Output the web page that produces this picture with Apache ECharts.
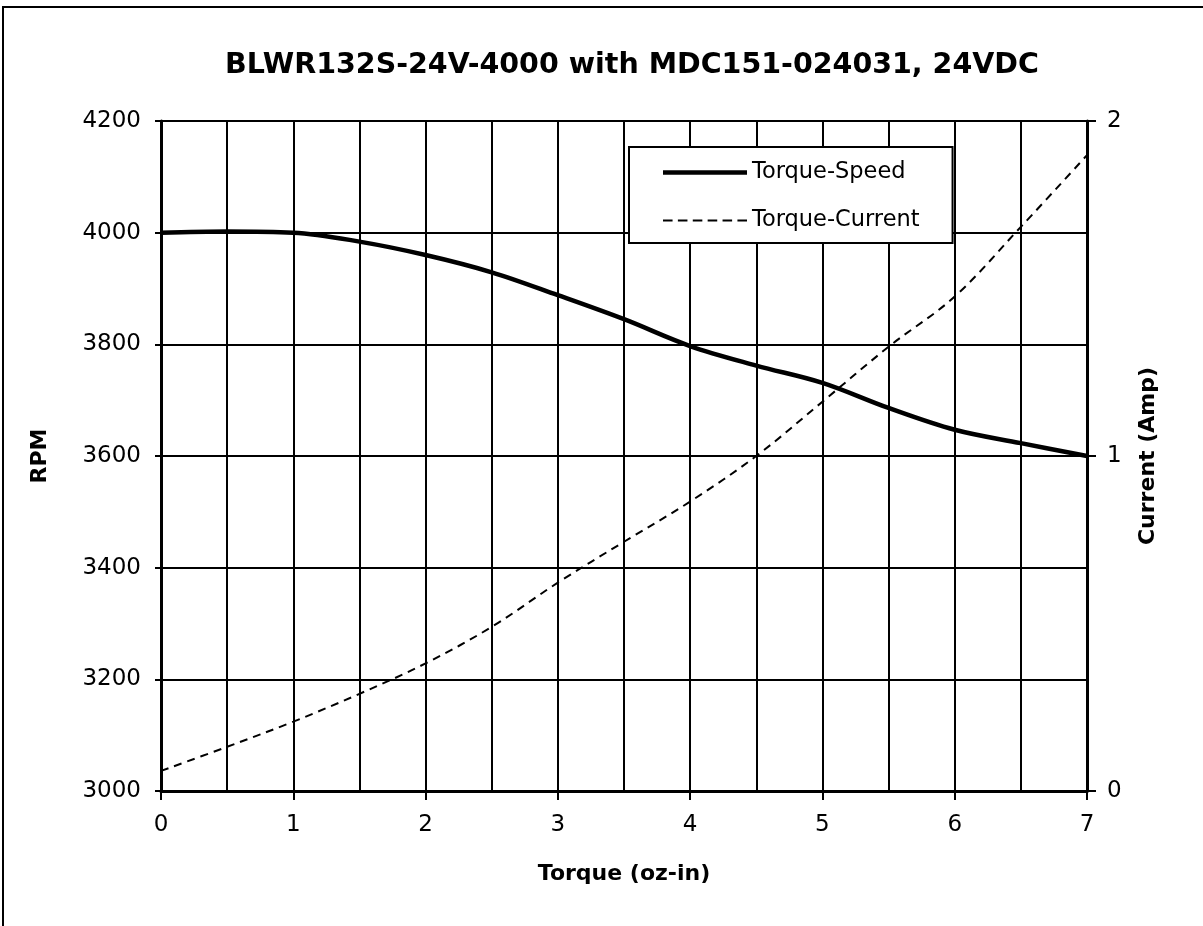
<!DOCTYPE html>
<html>
<head>
<meta charset="utf-8">
<script src="https://cdn.jsdelivr.net/npm/echarts@6/dist/echarts.min.js"></script>
<style>
html,body{margin:0;padding:0;background:#fff;}
#chart{width:1203px;height:926px;}
</style>
</head>
<body>
<div id="chart"></div>
<script>
const torque = [0, 0.5, 1, 1.5, 2, 2.5, 3, 3.5, 4, 4.5, 5, 5.5, 6, 6.5, 7];
const speedRPM = [4000, 4002, 4000, 3984, 3960, 3929, 3888, 3845, 3797, 3762, 3731, 3686, 3647, 3623, 3600];
const currentAmp = [0.06, 0.132, 0.207, 0.29, 0.381, 0.49, 0.622, 0.744, 0.864, 1.0, 1.162, 1.326, 1.476, 1.684, 1.898];
const titleText = 'BLWR132S-24V-4000 with MDC151-024031, 24VDC';
const seriesNames = ['Torque-Speed', 'Torque-Current'];
const axisNames = {x: 'Torque (oz-in)', left: 'RPM', right: 'Current (Amp)'};

const FONT = 'DejaVu Sans';
const chart = echarts.init(document.getElementById('chart'), null, {renderer: 'canvas'});
const pairs = (ys) => torque.map((x, i) => [x, ys[i]]);
const plain = (v) => String(v);

// legend sample icons (solid thick line, dashed thin line)
const solidIcon = 'path://M0,0 L84,0 L84,4.5 L0,4.5 Z';
const dashIcon = 'path://M0,0h9v2h-9z M14,0h9v2h-9z M28,0h9v2h-9z M42,0h9v2h-9z M56,0h9v2h-9z M70,0h9v2h-9z';

chart.setOption({
  backgroundColor: '#fff',
  animation: false,
  graphic: [{
    type: 'rect', z: -1,
    shape: {x: 3, y: 7, width: 1400, height: 1100},
    style: {fill: 'none', stroke: '#000', lineWidth: 2}
  }],
  title: {
    text: titleText,
    left: 627, top: 46, textAlign: 'center',
    textStyle: {fontFamily: FONT, fontWeight: 'bold', fontSize: 28.5, color: '#000'}
  },
  legend: {
    orient: 'vertical',
    left: 629, top: 147,
    padding: [14, 33, 11, 34],
    itemWidth: 84, itemHeight: 20, itemGap: 25,
    backgroundColor: '#fff',
    borderColor: '#000', borderWidth: 2,
    textStyle: {fontFamily: FONT, fontSize: 22.5, color: '#000'},
    data: [
      {name: seriesNames[0], icon: solidIcon, itemStyle: {color: '#000'}},
      {name: seriesNames[1], icon: dashIcon, itemStyle: {color: '#000'}}
    ]
  },
  grid: {left: 161, right: 116, top: 121, bottom: 135, containLabel: false},
  xAxis: {
    type: 'value', min: 0, max: 7, interval: 1,
    name: axisNames.x, nameLocation: 'middle', nameGap: 72, nameMoveOverlap: false,
    nameTextStyle: {fontFamily: FONT, fontWeight: 'bold', fontSize: 22, color: '#000'},
    axisLine: {show: true, onZero: false, lineStyle: {color: '#000', width: 3}},
    axisTick: {show: true, length: 9, lineStyle: {color: '#000', width: 2}},
    axisLabel: {fontFamily: FONT, fontSize: 23, color: '#000', margin: 23, formatter: plain},
    splitLine: {show: true, lineStyle: {color: '#000', width: 2}},
    minorTick: {show: false, splitNumber: 2},
    minorSplitLine: {show: true, lineStyle: {color: '#000', width: 2}}
  },
  yAxis: [{
    type: 'value', min: 3000, max: 4200, interval: 200,
    name: axisNames.left, nameLocation: 'middle', nameGap: 110, nameRotate: 90, nameMoveOverlap: false,
    nameTextStyle: {fontFamily: FONT, fontWeight: 'bold', fontSize: 22, color: '#000'},
    axisLine: {show: true, lineStyle: {color: '#000', width: 3}},
    axisTick: {show: true, length: 6, lineStyle: {color: '#000', width: 2}},
    axisLabel: {fontFamily: FONT, fontSize: 23, color: '#000', margin: 20, formatter: plain},
    splitLine: {show: true, lineStyle: {color: '#000', width: 2}}
  }, {
    type: 'value', min: 0, max: 2, interval: 1, position: 'right',
    name: axisNames.right, nameLocation: 'middle', nameGap: 50, nameRotate: 90, nameMoveOverlap: false,
    nameTextStyle: {fontFamily: FONT, fontWeight: 'bold', fontSize: 22, color: '#000'},
    axisLine: {show: true, lineStyle: {color: '#000', width: 3}},
    axisTick: {show: true, length: 9, lineStyle: {color: '#000', width: 2}},
    axisLabel: {fontFamily: FONT, fontSize: 23, color: '#000', margin: 20, formatter: plain},
    splitLine: {show: false}
  }],
  series: [{
    name: seriesNames[0], type: 'line', yAxisIndex: 0,
    data: pairs(speedRPM), smooth: 0.35, symbol: 'none',
    lineStyle: {color: '#000', width: 4.5}, itemStyle: {color: '#000'}, z: 5
  }, {
    name: seriesNames[1], type: 'line', yAxisIndex: 1,
    data: pairs(currentAmp), smooth: 0.35, symbol: 'none',
    lineStyle: {color: '#000', width: 2, type: [8, 6]}, itemStyle: {color: '#000'}, z: 4
  }]
});
</script>
</body>
</html>
